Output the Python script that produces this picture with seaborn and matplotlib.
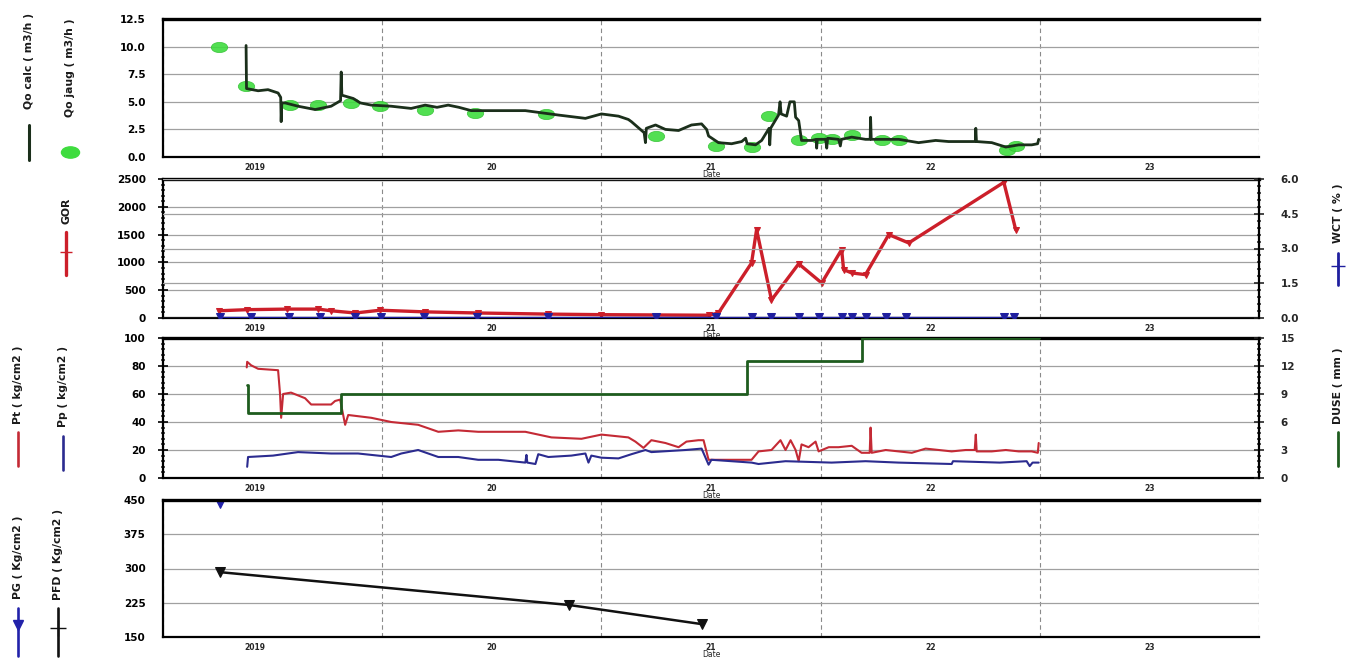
import numpy as np
import pandas as pd
import matplotlib
matplotlib.use("Agg")
import matplotlib.pyplot as plt
import seaborn as sns
from matplotlib.ticker import MultipleLocator, FixedLocator, NullFormatter, FormatStrFormatter
from matplotlib.lines import Line2D
from matplotlib.path import Path
from matplotlib.transforms import Affine2D

sns.set_style("white")
plt.rcParams['font.family'] = ['DejaVu Sans']
plt.rcParams['font.weight'] = 'bold'

# ---------------- data (time in decimal years) ----------------
year_bounds = [2019, 2020, 2021, 2022, 2023, 2024]
year_label_pos = [2019.42, 2020.5, 2021.5, 2022.5, 2023.5]
year_labels = ["2019", "20", "21", "22", "23"]

qo_calc_t = [2019.379, 2019.381, 2019.434, 2019.479, 2019.525, 2019.537, 2019.539, 2019.542, 2019.557,
             2019.616, 2019.694, 2019.767, 2019.810, 2019.813, 2019.816, 2019.868, 2019.900, 2019.950,
             2020.041, 2020.132, 2020.196, 2020.250, 2020.301, 2020.350, 2020.406, 2020.498, 2020.653,
             2020.804, 2020.927, 2021.000, 2021.078, 2021.123, 2021.137, 2021.195, 2021.201, 2021.205,
             2021.247, 2021.292, 2021.352, 2021.411, 2021.457, 2021.480, 2021.489, 2021.534, 2021.594,
             2021.640, 2021.658, 2021.665, 2021.703, 2021.731, 2021.765, 2021.768, 2021.772, 2021.808,
             2021.815, 2021.820, 2021.845, 2021.860, 2021.880, 2021.886, 2021.900, 2021.913, 2021.959,
             2021.980, 2021.982, 2021.985, 2022.023, 2022.028, 2022.032, 2022.082, 2022.090, 2022.095,
             2022.142, 2022.205, 2022.226, 2022.228, 2022.231, 2022.356, 2022.447, 2022.525, 2022.584,
             2022.662, 2022.706, 2022.708, 2022.711, 2022.781, 2022.845, 2022.904, 2022.963, 2022.990,
             2022.995]
qo_calc_v = [10.1, 6.2, 6.0, 6.1, 5.8, 5.4, 3.2, 4.9, 4.9,
             4.6, 4.3, 4.6, 5.1, 7.7, 5.6, 5.3, 4.9, 4.7,
             4.6, 4.4, 4.7, 4.5, 4.7, 4.5, 4.2, 4.2, 4.2,
             3.8, 3.5, 3.9, 3.7, 3.4, 3.2, 2.2, 1.3, 2.6,
             2.9, 2.5, 2.4, 2.9, 3.0, 2.5, 1.9, 1.3, 1.2,
             1.4, 1.7, 1.2, 1.1, 1.5, 2.6, 1.1, 2.6, 3.8,
             5.0, 3.9, 3.7, 5.0, 5.0, 3.6, 3.3, 1.5, 1.5,
             1.6, 0.8, 1.6, 1.6, 0.8, 1.7, 1.6, 1.0, 1.6,
             1.8, 1.6, 1.6, 3.6, 1.6, 1.6, 1.3, 1.5, 1.4,
             1.4, 1.4, 2.6, 1.4, 1.3, 0.9, 1.1, 1.1, 1.2,
             1.6]

qo_jaug_t = [2019.256, 2019.379, 2019.580, 2019.708, 2019.858, 2019.991, 2020.196, 2020.425, 2020.749,
             2021.247, 2021.521, 2021.685, 2021.763, 2021.900, 2021.991, 2022.050, 2022.142, 2022.279,
             2022.356, 2022.849, 2022.890]
qo_jaug_v = [10.0, 6.4, 4.7, 4.7, 4.9, 4.6, 4.3, 4.0, 3.9,
             1.9, 1.0, 0.9, 3.7, 1.5, 1.7, 1.6, 2.0, 1.5,
             1.5, 0.6, 1.0]

gor_t = [2019.256, 2019.384, 2019.566, 2019.708, 2019.767, 2019.877, 2019.991, 2020.196, 2020.438,
         2020.758, 2021.000, 2021.489, 2021.534, 2021.685, 2021.708, 2021.776, 2021.900, 2022.005,
         2022.096, 2022.105, 2022.142, 2022.205, 2022.311, 2022.402, 2022.836, 2022.890]
gor_v = [130, 150, 160, 160, 130, 90, 140, 110, 90,
         70, 60, 50, 90, 990, 1590, 325, 975, 630,
         1230, 870, 810, 780, 1500, 1350, 2440, 1590]

wct_t = [2019.260, 2019.402, 2019.575, 2019.717, 2019.877, 2019.995, 2020.192, 2020.434, 2020.758,
         2021.247, 2021.521, 2021.685, 2021.776, 2021.900, 2021.991, 2022.096, 2022.142, 2022.205,
         2022.297, 2022.388, 2022.836, 2022.881]
wct_v = [0.03] * 22

pt_t = [2019.382, 2019.384, 2019.402, 2019.434, 2019.525, 2019.534, 2019.539, 2019.548, 2019.584,
        2019.616, 2019.648, 2019.676, 2019.767, 2019.785, 2019.808, 2019.822, 2019.831, 2019.845,
        2019.950, 2020.041, 2020.164, 2020.256, 2020.347, 2020.438, 2020.653, 2020.772, 2020.909,
        2021.000, 2021.123, 2021.155, 2021.192, 2021.228, 2021.292, 2021.352, 2021.388, 2021.443,
        2021.466, 2021.489, 2021.685, 2021.717, 2021.776, 2021.817, 2021.840, 2021.863, 2021.886,
        2021.900, 2021.913, 2021.945, 2021.977, 2021.991, 2022.037, 2022.082, 2022.142, 2022.187,
        2022.224, 2022.228, 2022.233, 2022.297, 2022.356, 2022.416, 2022.479, 2022.539, 2022.598,
        2022.662, 2022.703, 2022.708, 2022.712, 2022.781, 2022.845, 2022.904, 2022.963, 2022.991,
        2022.995]
pt_v = [79, 83, 80.5, 78, 77, 60, 43, 60, 61,
        59, 57, 52.5, 52.5, 55, 56, 45, 38, 45,
        43, 40, 38, 33, 34, 33, 33, 29, 28,
        31, 29, 26, 21.5, 27, 25, 22, 26, 27,
        27, 13, 13, 19, 20, 27, 20, 27, 20,
        12, 24, 22, 26, 19, 22, 22, 23, 18,
        18, 36, 18, 20, 19, 18, 21, 20, 19,
        20, 20, 31, 19, 19, 20, 19, 19, 18,
        25]

pp_t = [2019.384, 2019.388, 2019.502, 2019.616, 2019.767, 2019.890, 2020.041, 2020.087, 2020.164,
        2020.256, 2020.347, 2020.438, 2020.530, 2020.653, 2020.658, 2020.662, 2020.699, 2020.712,
        2020.758, 2020.863, 2020.927, 2020.941, 2020.954, 2021.000, 2021.078, 2021.137, 2021.201,
        2021.228, 2021.384, 2021.457, 2021.489, 2021.502, 2021.685, 2021.717, 2021.840, 2022.050,
        2022.205, 2022.356, 2022.598, 2022.604, 2022.817, 2022.940, 2022.954, 2022.967, 2022.995]
pp_v = [8, 15, 16, 18.5, 17.5, 17.5, 15, 17.5, 20,
        15, 15, 13, 13, 11, 16.5, 11, 10, 17,
        15, 16, 17.5, 11, 16, 14.5, 14, 17, 20,
        18.5, 20, 21, 9.5, 13, 11, 10, 12, 11,
        12, 11, 10, 12, 11, 12, 8.5, 11, 11]

duse_t = [2019.384, 2019.386, 2019.814, 2021.665, 2022.190, 2022.995]
duse_v = [10, 7, 9, 12.5, 15, 15]

pfd_t = [2019.26, 2020.854, 2021.461]
pfd_v = [292, 220, 178]

pg_t = [2019.26]
pg_v = [446]

# ---------------- colours ----------------
C_QOC = '#1b2f1b'
C_QOJ = '#3fdc3f'
C_GOR = '#cc1f2a'
C_WCT = '#1f1f9f'
C_PT = '#c42a35'
C_PP = '#2b2b8f'
C_DUSE = '#1e5c1e'
C_PFD = '#111111'
C_PG = '#2222aa'

ellipse = Path.unit_circle().transformed(Affine2D().scale(1.6, 1.0))

# ---------------- figure ----------------
W, H = 1347, 666
fig = plt.figure(figsize=(W / 100, H / 100), dpi=100)


def add_ax(top, bottom, left=163, right=1259):
    return fig.add_axes([left / W, 1 - bottom / H, (right - left) / W, (bottom - top) / H])


def style(ax, ylim, major, minor, fmt):
    ax.set_xlim(year_bounds[0], year_bounds[-1])
    ax.set_ylim(*ylim)
    ax.xaxis.set_major_locator(FixedLocator(year_bounds))
    ax.xaxis.set_minor_locator(MultipleLocator(1 / 12))
    ax.xaxis.set_major_formatter(NullFormatter())
    ax.yaxis.set_major_locator(MultipleLocator(major))
    ax.yaxis.set_minor_locator(MultipleLocator(minor))
    ax.yaxis.set_major_formatter(FormatStrFormatter(fmt))
    ax.set_axisbelow(True)
    ax.grid(axis='x', which='major', color='#8a8a8a', ls=(0, (4, 3)), lw=0.8)
    ax.grid(axis='y', which='major', color='#a0a0a0', lw=0.9)
    ax.tick_params(axis='both', which='major', direction='inout', length=7, width=1.2,
                   labelsize=7.5, colors='black', pad=3)
    ax.tick_params(axis='y', which='major', pad=9)
    ax.tick_params(axis='both', which='minor', direction='inout', length=3.5, width=1.1)
    for s in ax.spines.values():
        s.set_color('black')
    ax.spines['top'].set_linewidth(2.4)
    ax.spines['bottom'].set_linewidth(1.6)
    ax.spines['left'].set_linewidth(1.6)
    ax.spines['right'].set_visible(False)
    ax.set_xlabel('')
    ax.set_ylabel('')
    sec = ax.secondary_xaxis('bottom')
    sec.set_xticks(year_label_pos, year_labels)
    sec.tick_params(length=0, labelsize=5.5, pad=4)
    sec.spines['bottom'].set_visible(False)
    sec.set_xlabel('Date', fontsize=5.5, labelpad=-1)


def style_right(ax, ylim, major, minor, fmt, grid):
    ax.set_ylim(*ylim)
    ax.yaxis.set_major_locator(MultipleLocator(major))
    ax.yaxis.set_minor_locator(MultipleLocator(minor))
    ax.yaxis.set_major_formatter(FormatStrFormatter(fmt))
    ax.tick_params(axis='y', which='major', direction='inout', length=7, width=1.2, labelsize=7.5, pad=12)
    ax.tick_params(axis='y', which='minor', direction='inout', length=3.5, width=1.1)
    for side in ['left', 'top', 'bottom']:
        ax.spines[side].set_visible(False)
    ax.spines['right'].set_visible(True)
    ax.spines['right'].set_color('black')
    ax.spines['right'].set_linewidth(1.6)
    if grid:
        ax.grid(axis='y', which='major', color='#a0a0a0', lw=0.9)
    else:
        ax.grid(False)
    ax.set_ylabel('')
    ax.set_xlabel('')


ax1 = add_ax(19, 157)
ax2 = add_ax(179, 318)
ax3 = add_ax(338, 478)
ax4 = add_ax(500, 637)

# ---- panel 1 : oil rate ----
sns.lineplot(x=qo_calc_t, y=qo_calc_v, ax=ax1, estimator=None, sort=False, color=C_QOC, lw=2.0)
sns.scatterplot(x=qo_jaug_t, y=qo_jaug_v, ax=ax1, marker=ellipse, s=140, color=C_QOJ,
                edgecolor='#2fbf2f', linewidth=0.5, zorder=1, alpha=0.9)
style(ax1, (0, 12.5), 2.5, 0.5, '%.1f')

# ---- panel 2 : GOR / WCT ----
sns.lineplot(x=gor_t, y=gor_v, ax=ax2, estimator=None, sort=False, color=C_GOR, lw=2.4,
             marker='v', markersize=5, markeredgecolor=C_GOR)
style(ax2, (0, 2500), 500, 100, '%d')
ax2r = ax2.twinx()
sns.lineplot(x=wct_t, y=wct_v, ax=ax2r, estimator=None, sort=False, color=C_WCT, lw=1.0,
             marker='v', markersize=6, markeredgecolor=C_WCT)
style_right(ax2r, (0, 6), 1.5, 0.3, '%.1f', True)
ax2r.set_xlim(year_bounds[0], year_bounds[-1])

# ---- panel 3 : pressures / choke ----
sns.lineplot(x=pt_t, y=pt_v, ax=ax3, estimator=None, sort=False, color=C_PT, lw=1.5)
sns.lineplot(x=pp_t, y=pp_v, ax=ax3, estimator=None, sort=False, color=C_PP, lw=1.5)
style(ax3, (0, 100), 20, 4, '%d')
ax3r = ax3.twinx()
sns.lineplot(x=duse_t, y=duse_v, ax=ax3r, estimator=None, sort=False, color=C_DUSE, lw=2.0,
             drawstyle='steps-post')
style_right(ax3r, (0, 15), 3, 0.6, '%d', False)
ax3r.set_xlim(year_bounds[0], year_bounds[-1])

# ---- panel 4 : PG / PFD ----
sns.lineplot(x=pfd_t, y=pfd_v, ax=ax4, estimator=None, sort=False, color=C_PFD, lw=1.8,
             marker='v', markersize=7, markeredgecolor=C_PFD)
sns.lineplot(x=pg_t, y=pg_v, ax=ax4, estimator=None, sort=False, color=C_PG, lw=1.0,
             marker='v', markersize=8, markeredgecolor=C_PG)
style(ax4, (150, 450), 75, 15, '%d')
for a in (ax1, ax2, ax3, ax4):
    a.set_xlim(year_bounds[0], year_bounds[-1])

# ---------------- side legends (figure coordinates) ----------------
def fx(px):
    return px / W


def fy(py):
    return 1 - py / H


def side_label(x, ytop, ybot, text):
    fig.text(fx(x), fy((ytop + ybot) / 2), text, rotation=90, ha='center', va='center',
             fontsize=7.8, color='#1a1a1a', fontweight='bold')


def glyph(x, ytop, ybot, color, lw=2.0, marker=None, ms=6, my=None):
    fig.add_artist(Line2D([fx(x), fx(x)], [fy(ytop), fy(ybot)], color=color, lw=lw,
                          transform=fig.transFigure))
    if marker is not None:
        fig.add_artist(Line2D([fx(x)], [fy(my)], color=color, marker=marker, ms=ms, lw=0,
                              transform=fig.transFigure))


side_label(29, 10, 112, 'Qo calc ( m3/h )')
glyph(29, 125, 160, C_QOC, lw=2.2)
side_label(70, 20, 115, 'Qo jaug ( m3/h )')
fig.add_artist(Line2D([fx(70)], [fy(152)], color=C_QOJ, marker=ellipse, ms=13, lw=0,
                      transform=fig.transFigure))

side_label(66, 193, 228, 'GOR')
glyph(66, 232, 275, C_GOR, lw=2.4, marker='+', ms=9, my=252)

side_label(18, 343, 427, 'Pt ( kg/cm2 )')
glyph(18, 432, 466, C_PT, lw=1.9)
side_label(63, 343, 430, 'Pp ( kg/cm2 )')
glyph(63, 436, 470, C_PP, lw=1.9)

side_label(18, 512, 602, 'PG ( Kg/cm2 )')
glyph(18, 608, 656, C_PG, lw=1.9, marker='v', ms=7, my=625)
side_label(58, 508, 602, 'PFD ( Kg/cm2 )')
glyph(58, 608, 656, C_PFD, lw=1.9, marker='+', ms=11, my=628)

side_label(1338, 180, 247, 'WCT ( % )')
glyph(1338, 253, 285, C_WCT, lw=2.0, marker='+', ms=10, my=266)
side_label(1338, 343, 428, 'DUSE ( mm )')
glyph(1338, 432, 466, C_DUSE, lw=2.0)

fig.savefig('out.png', dpi=100)
